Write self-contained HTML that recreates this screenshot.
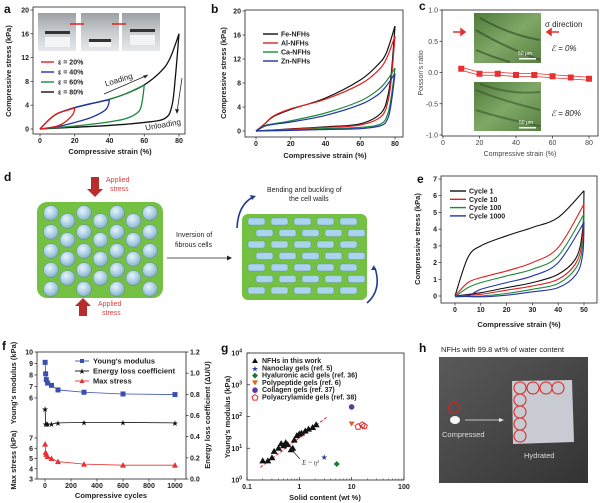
<!DOCTYPE html>
<html><head><meta charset="utf-8"><style>
html,body{margin:0;padding:0;background:#fff;}
svg{display:block;font-family:"Liberation Sans",sans-serif;}
.t{font-size:7px;font-weight:bold;fill:#222;}
.tn{font-size:7px;fill:#444;}
.ttl{font-size:7.5px;font-weight:bold;fill:#222;}
.lab{font-size:12px;font-weight:bold;fill:#111;}
</style></head><body>
<svg id="fig" width="600" height="503" viewBox="0 0 600 503">
<defs>
<linearGradient id="photoGray" x1="0" y1="0" x2="0" y2="1"><stop offset="0" stop-color="#9aa0a4"/><stop offset="0.5" stop-color="#c9cdd0"/><stop offset="1" stop-color="#e6e8ea"/></linearGradient>
<linearGradient id="greenImg" x1="0" y1="0" x2="1" y2="1"><stop offset="0" stop-color="#4f7a3c"/><stop offset="0.5" stop-color="#7fa866"/><stop offset="1" stop-color="#587f44"/></linearGradient>
<radialGradient id="bubble" cx="0.4" cy="0.35" r="0.7"><stop offset="0" stop-color="#e8f4fb"/><stop offset="0.7" stop-color="#9cc6dc"/><stop offset="1" stop-color="#7fa0a0"/></radialGradient>
<linearGradient id="hPhoto" x1="0" y1="0" x2="1" y2="1"><stop offset="0" stop-color="#5a5a5a"/><stop offset="1" stop-color="#333"/></linearGradient>
</defs>
<text class="lab" x="4" y="13">a</text>
<text class="lab" x="211" y="13">b</text>
<text class="lab" x="419" y="10">c</text>
<text class="lab" x="4" y="181">d</text>
<text class="lab" x="417" y="183">e</text>
<text class="lab" x="2" y="350">f</text>
<text class="lab" x="221" y="352">g</text>
<text class="lab" x="419" y="352">h</text>

<g>
<rect x="38" y="13" width="38" height="38" fill="url(#photoGray)"/>
<rect x="81" y="13" width="38" height="38" fill="url(#photoGray)"/>
<rect x="122" y="13" width="38" height="38" fill="url(#photoGray)"/>
<rect x="45" y="31" width="25" height="3" fill="#333"/><rect x="89" y="39" width="22" height="3" fill="#333"/><rect x="130" y="29" width="25" height="3" fill="#333"/>
<rect x="45" y="37" width="25" height="10" fill="#f2f4f5"/><rect x="89" y="42" width="22" height="5" fill="#f2f4f5"/><rect x="130" y="35" width="25" height="10" fill="#f2f4f5"/>
<line x1="70" y1="24" x2="84" y2="24" stroke="#e02020" stroke-width="1.5"/><line x1="112" y1="24" x2="126" y2="24" stroke="#e02020" stroke-width="1.5"/>
</g>
<text x="104" y="82" font-size="8" fill="#222" transform="rotate(-17 120 78)">Loading</text>
<line x1="104" y1="94" x2="148" y2="75" stroke="#222" stroke-width="0.8"/>
<path d="M148,75 l-5,0.5 l2,3z" fill="#222"/>
<text x="145" y="128" font-size="8" fill="#222" transform="rotate(-10 160 125)">Unloading</text>
<line x1="182" y1="78" x2="177" y2="112" stroke="#222" stroke-width="0.8"/>
<path d="M177,114 l-2,-5 l4,0.5z" fill="#222"/>

<g>
<rect x="474" y="13" width="67" height="50" fill="url(#greenImg)"/>
<path d="M476,30 Q500,45 540,60 M480,18 Q510,35 540,40 M476,50 Q495,58 510,62" stroke="#2e4a22" stroke-width="2" fill="none" opacity="0.6"/>
<rect x="519" y="58" width="17" height="1.5" fill="#fff"/><text x="518" y="55" font-size="5" fill="#fff">50 μm</text>
<rect x="474" y="82" width="67" height="49" fill="url(#greenImg)"/>
<path d="M476,90 Q500,100 540,110 M476,110 Q500,118 540,126 M480,84 Q510,95 540,92" stroke="#2e4a22" stroke-width="2" fill="none" opacity="0.5"/>
<rect x="519" y="127" width="17" height="1.5" fill="#fff"/><text x="519" y="124" font-size="5" fill="#fff">50 μm</text>
</g>
<text x="545" y="27" font-size="8" fill="#222">σ direction</text>
<path d="M453,32 h12 M465,32 l-4,-3 v6z" stroke="#e03030" stroke-width="1.5" fill="#e03030"/>
<path d="M559,32 h-12 M547,32 l4,-3 v6z" stroke="#e03030" stroke-width="1.5" fill="#e03030"/>
<text x="551" y="51" font-size="8" fill="#222" font-style="italic">ℰ = 0%</text>
<text x="551" y="116" font-size="8" fill="#222" font-style="italic">ℰ = 80%</text>

<g id="honey">
<rect x="37" y="202" width="126" height="96" rx="10" fill="#74c043"/>
</g>
<path d="M91,177 v12 h-4 l8,8 l8,-8 h-4 v-12z" fill="#b82c2c"/>
<text x="106" y="182" font-size="7" fill="#e04040">Applied</text>
<text x="110" y="191" font-size="7" fill="#e04040">stress</text>
<path d="M79,316 v-10 h-4 l8,-8 l8,8 h-4 v10z" fill="#b82c2c"/>
<text x="98" y="306" font-size="7" fill="#e04040">Applied</text>
<text x="102" y="315" font-size="7" fill="#e04040">stress</text>
<text x="176" y="237" font-size="7" fill="#222">Inversion of</text>
<text x="175" y="247" font-size="7" fill="#222">fibrous cells</text>
<line x1="167" y1="258" x2="228" y2="258" stroke="#222" stroke-width="0.8"/>
<path d="M232,258 l-5,-2.5 v5z" fill="#222"/>
<text x="267" y="192" font-size="7" fill="#222">Bending and buckling of</text>
<text x="289" y="201" font-size="7" fill="#222">the cell walls</text>
<g id="brick">
<rect x="242" y="214" width="125" height="86" rx="6" fill="#74c043"/>
</g>
<path d="M237,228 Q238,205 253,197" stroke="#223d8c" stroke-width="1.6" fill="none"/>
<path d="M256,196 l-6,-1 l2,5z" fill="#223d8c"/>
<path d="M375,268 Q382,290 367,303" stroke="#223d8c" stroke-width="1.6" fill="none"/>
<path d="M374,265 l-3,5 l5,0z" fill="#223d8c"/>

<g>
<rect x="439" y="357" width="149" height="126" fill="url(#hPhoto)"/>
<path d="M512,381 L572,380 L574,442 L513,444z" fill="#c8ccd2"/>
<ellipse cx="455" cy="420" rx="5" ry="4" fill="#f6f6f6"/>
<circle cx="454" cy="408" r="5.5" fill="none" stroke="#e02020" stroke-width="1"/>
<line x1="465" y1="420" x2="500" y2="420" stroke="#eee" stroke-width="0.8"/><path d="M504,420 l-5,-2 v4z" fill="#eee"/>
<g id="hcircles" fill="none" stroke="#e02020" stroke-width="1"></g>
<text x="442" y="437" font-size="7.5" fill="#ddd">Compressed</text>
<text x="524" y="458" font-size="7.5" fill="#ddd">Hydrated</text>
</g>
<text x="441" y="352" font-size="7.5" fill="#222">NFHs with 99.8 wt% of water content</text>

<g id="charts"></g>
</svg>
<script>
var aLoad80X=[0,5,10,20,30,40,50,60,70,75,80];
var aLoad80Y=[0,1.5,2.6,3.6,4.3,5.0,6.0,7.4,9.8,12,16];
var aUn80X=[80,78,76,72,60,40,20,0];
var aUn80Y=[16,9,4,1.8,1.1,0.6,0.3,0];
var aUn60X=[60,59,57,50,40,20,0];
var aUn60Y=[7.4,5,3,1.8,1.2,0.5,0];
var aUn40X=[40,38,30,20,10,0];
var aUn40Y=[4.9,3.3,2,1.1,0.4,0];
var aUn20X=[20,19,15,10,0];
var aUn20Y=[3.5,2.5,1.3,0.5,0];
var aLegend=["ε = 20%","ε = 40%","ε = 60%","ε = 80%"];
var aXTicks=[0,20,40,60,80];
var aYTicks=[0,4,8,12,16,20];
var bNames=["Fe-NFHs","Al-NFHs","Ca-NFHs","Zn-NFHs"];
var bLoadX=[0,5,10,20,40,60,70,75,80];
var bFeLoad=[0,1.2,2.4,3.6,5.5,8.5,11,13,17.5];
var bAlLoad=[0,1.2,2.5,3.7,5.3,7.8,10,12,15.8];
var bCaLoad=[0,0.9,1.2,1.7,3.0,5.0,6.8,8.3,10.5];
var bZnLoad=[0,0.8,1.1,1.5,2.6,4.4,6.0,7.5,9.6];
var bUnX=[80,78,76,72,60,40,20,0];
var bFeUn=[17.5,10,6,3,1.2,0.7,0.35,0];
var bAlUn=[15.8,9,5,2.4,1.0,0.6,0.3,0];
var bCaUn=[10.5,6,3,1.2,0.6,0.4,0.2,0];
var bZnUn=[9.6,5,2.2,0.9,0.4,0.25,0.1,0];
var bXTicks=[0,20,40,60,80];
var bYTicks=[0,4,8,12,16,20];
var cStrain=[10,20,30,40,50,60,70,80];
var cPoisson=[0.06,-0.02,-0.02,-0.04,-0.04,-0.06,-0.08,-0.1];
var cXTicks=[0,20,40,60,80];
var cYTicks=[-1.0,-0.5,0.0,0.5,1.0];
var eNames=["Cycle 1","Cycle 10","Cycle 100","Cycle 1000"];
var eLoadX=[0,5,10,20,30,40,50];
var e1Load=[0,2.3,3.0,3.6,4.1,4.7,6.3];
var e10Load=[0,0.8,1.1,1.5,2.0,2.9,5.5];
var e100Load=[-0.05,0.5,0.8,1.2,1.6,2.4,4.9];
var e1000Load=[0,0,0.4,0.8,1.2,2.0,4.4];
var eUnX=[50,49.5,47,40,30,20,10,0];
var e1Un=[6.3,4,2.3,1.3,0.8,0.5,0.2,0];
var e10Un=[5.5,3.5,2,1,0.6,0.35,0.1,0];
var e100Un=[4.9,3,1.7,0.75,0.4,0.15,0,-0.05];
var e1000Un=[4.4,2.5,1.3,0.5,0.25,0.05,-0.05,0];
var eXTicks=[0,10,20,30,40,50];
var eYTicks=[0,1,2,3,4,5,6,7];
var fCycles=[1,5,10,20,50,100,300,600,1000];
var fYoung=[9.1,8.1,7.6,7.3,7.1,6.7,6.5,6.35,6.3];
var fEnergy=[0.66,0.52,0.52,0.52,0.52,0.53,0.535,0.535,0.53];
var fMax=[6.4,5.6,5.4,5.2,5.0,4.7,4.45,4.35,4.35];
var fXTicks=[0,200,400,600,800,1000];
var fYoungTicks=[6,7,8,9,10];
var fMaxTicks=[3,4,5,6,7];
var fRightTicks=[0.0,0.2,0.4,0.6,0.8,1.0,1.2];
var fLegend=["Young's modulus","Energy loss coefficient","Max stress"];
var gNfhSolid=[0.2,0.25,0.3,0.33,0.4,0.45,0.5,0.55,0.6,0.7,0.75,0.8,0.9,1.0,1.1,1.3,1.5,1.8,2.1];
var gNfhMod=[4,4,5,8,10,14,12,15,13,9,10,18,25,28,30,35,40,45,55];
var gOtherSolid=[3,5.2,10,10,13.3,16,17.5];
var gOtherMod=[5.3,3.2,58,200,48,55,50];
var gOtherType=["star","diamond","tri","circle","pent","pent","pent"];
var gFitSolid=[0.18,3.5];
var gFitMod=[2.5,100];
var gLegend=["NFHs in this work","Nanoclay gels (ref. 5)","Hyaluronic acid gels (ref. 36)","Polypeptide gels (ref. 6)","Collagen gels (ref. 37)","Polyacrylamide gels (ref. 38)"];
var gXTicks=[0.1,1,10,100];
var gYTicks=[0,1,2,3,4];

var NS="http://www.w3.org/2000/svg";
var root=document.getElementById('charts');
function mk(tag,at,par){var e=document.createElementNS(NS,tag);for(var k in at)e.setAttribute(k,at[k]);(par||root).appendChild(e);return e;}
function lin(d0,d1,r0,r1){return function(v){return r0+(v-d0)*(r1-r0)/(d1-d0);};}
function smooth(pts){var d="M"+pts[0][0]+","+pts[0][1];for(var i=0;i<pts.length-1;i++){var p0=pts[i-1]||pts[i],p1=pts[i],p2=pts[i+1],p3=pts[i+2]||p2;var c1x=p1[0]+(p2[0]-p0[0])/6,c1y=p1[1]+(p2[1]-p0[1])/6,c2x=p2[0]-(p3[0]-p1[0])/6,c2y=p2[1]-(p3[1]-p1[1])/6;d+=" C"+c1x+","+c1y+" "+c2x+","+c2y+" "+p2[0]+","+p2[1];}return d;}
function curve(xs,ys,sx,sy,col,w,name){var p=[];for(var i=0;i<xs.length;i++)p.push([sx(xs[i]),sy(ys[i])]);var e=mk('path',{d:smooth(p),fill:'none',stroke:col,'stroke-width':w||1.2});


return e;}
function box(x0,y0,x1,y1,name){var e=mk('rect',{x:x0,y:y0,width:x1-x0,height:y1-y0,fill:'none',stroke:'#222','stroke-width':0.8});

}
function txt(x,y,s,cls,anchor,extra,name){var e=mk('text',{x:x,y:y,'class':cls,'text-anchor':anchor||'start'});for(var k in extra||{})e.setAttribute(k,extra[k]);e.textContent=s;


return e;}
function xTicks(ticks,sx,yb,cls,fmt,name){ticks.forEach(function(t){mk('line',{x1:sx(t),x2:sx(t),y1:yb,y2:yb+2.5,stroke:'#222','stroke-width':0.7});txt(sx(t),yb+9,fmt?fmt(t):String(t),cls,'middle',{},name);});}
function yTicks(ticks,sy,xl,cls,fmt,name,fill,right){ticks.forEach(function(t){mk('line',{x1:xl,x2:right?xl+2.5:xl-2.5,y1:sy(t),y2:sy(t),stroke:'#222','stroke-width':0.7});txt(right?xl+4:xl-4,sy(t)+2.5,fmt?fmt(t):String(t),cls,right?'start':'end',fill?{fill:fill}:{},name);});}
function vtitle(x,y,s,cls,fill,name){txt(x,y,s,cls,'middle',{transform:'rotate(-90 '+x+' '+y+')',fill:fill||'#222'},name);}

(function(){var sx=lin(0,80,40,179),sy=lin(0,20,129,10);
box(33,7,185,134,'panel-a-axes');
xTicks(aXTicks,sx,134,'t',null,'a-x-tick');yTicks(aYTicks,sy,33,'t',null,'a-y-tick');
txt(110,154,'Compressive strain (%)','ttl','middle',{},'a-x-axis-title');vtitle(11,71,'Compressive stress (kPa)','ttl',null,'a-y-axis-title');
var cols=['#e02020','#2233aa','#1a8a3a','#111'];
var ends=[20,40,60,80];var uns=[[aUn20X,aUn20Y],[aUn40X,aUn40Y],[aUn60X,aUn60Y],[aUn80X,aUn80Y]];
for(var k=3;k>=0;k--){var lx=[],ly=[];for(var i=0;i<aLoad80X.length;i++){if(aLoad80X[i]<ends[k]){lx.push(aLoad80X[i]);ly.push(aLoad80Y[i]);}}lx.push(uns[k][0][0]);ly.push(uns[k][1][0]);
curve(lx,ly,sx,sy,cols[k],1.3,'a-loading-'+ends[k]);curve(uns[k][0],uns[k][1],sx,sy,cols[k],1.3,'a-unloading-'+ends[k]);}
aLegend.forEach(function(s,i){var y=62+i*10;mk('line',{x1:41,x2:54,y1:y,y2:y,stroke:cols[i],'stroke-width':1.4});txt(58,y+2.5,s,'t','start',{},'a-legend-entry');});
})();
(function(){var sx=lin(0,80,256,395),sy=lin(0,20,131,11);
box(245,10,403,137,'panel-b-axes');
xTicks(bXTicks,sx,137,'t',null,'b-x-tick');yTicks(bYTicks,sy,245,'t',null,'b-y-tick');
txt(325,158,'Compressive strain (%)','ttl','middle',{},'b-x-axis-title');vtitle(226,73,'Compressive stress (kPa)','ttl',null,'b-y-axis-title');
var cols=['#111','#e02020','#1a8a3a','#2233aa'];var L=[bFeLoad,bAlLoad,bCaLoad,bZnLoad],U=[bFeUn,bAlUn,bCaUn,bZnUn];
for(var k=0;k<4;k++){curve(bLoadX,L[k],sx,sy,cols[k],1.2,'b-loading-'+bNames[k]);curve(bUnX,U[k],sx,sy,cols[k],1.2,'b-unloading-'+bNames[k]);}
bNames.forEach(function(s,i){var y=34+i*9;mk('line',{x1:263,x2:278,y1:y,y2:y,stroke:cols[i],'stroke-width':1.4});txt(281,y+2.5,s,'t','start',{},'b-legend-entry');});
})();
(function(){var sx=lin(0,80,443,589),sy=lin(-1,1,135,10);
box(442,10,598,136,'panel-c-axes');
xTicks(cXTicks,sx,136,'tn',null,'c-x-tick');yTicks(cYTicks,sy,442,'tn',function(v){return v.toFixed(1);},'c-y-tick');
txt(520,156,'Compressive strain (%)','tn','middle',{},'c-x-axis-title');vtitle(423,73,"Poisson's ratio",'tn',null,'c-y-axis-title');
[-1.5,1.5].forEach(function(o){var p=cStrain.map(function(s,i){return sx(s)+','+(sy(cPoisson[i])+o);});var e=mk('polyline',{points:p.join(' '),fill:'none',stroke:'#e83030','stroke-width':0.8});

});
cStrain.forEach(function(s,i){var e=mk('rect',{x:sx(s)-3,y:sy(cPoisson[i])-3,width:6,height:6,fill:'#e83030'});

});
})();
(function(){var sx=lin(0,50,455,584),sy=lin(0,7,296,179);
box(441,176,597,303,'panel-e-axes');
xTicks(eXTicks,sx,303,'t',null,'e-x-tick');yTicks(eYTicks,sy,441,'t',null,'e-y-tick');
txt(519,327,'Compressive strain (%)','ttl','middle',{},'e-x-axis-title');vtitle(420,239,'Compressive stress (kPa)','ttl',null,'e-y-axis-title');
var cols=['#111','#e02020','#1a8a3a','#2233aa'];var L=[e1Load,e10Load,e100Load,e1000Load],U=[e1Un,e10Un,e100Un,e1000Un];
for(var k=0;k<4;k++){curve(eLoadX,L[k],sx,sy,cols[k],1.1,'e-loading-'+eNames[k]);curve(eUnX,U[k],sx,sy,cols[k],1.1,'e-unloading-'+eNames[k]);}
eNames.forEach(function(s,i){var y=191+i*8.3;mk('line',{x1:450,x2:466,y1:y,y2:y,stroke:cols[i],'stroke-width':1.4});txt(469,y+2.5,s,'t','start',{},'e-legend-entry');});
})();
(function(){var sx=lin(0,1000,45,175),syY=lin(6,10,398,352),syM=lin(3,7,479,438),syE=lin(0,1.2,479,352);
box(37,352,186,479,'panel-f-axes');
xTicks(fXTicks,sx,479,'t',null,'f-x-tick');
yTicks(fYoungTicks,syY,37,'t',null,'f-young-tick','#2a3f9a');yTicks(fMaxTicks,syM,37,'t',null,'f-max-tick','#e02020');
yTicks(fRightTicks,syE,186,'t',function(v){return v.toFixed(1);},'f-energy-tick',null,true);
txt(111,498,'Compressive cycles','ttl','middle',{},'f-x-axis-title');
vtitle(16,383,"Young's modulus (kPa)",'ttl','#2a3f9a','f-young-axis-title');vtitle(16,460,'Max stress (kPa)','ttl','#e02020','f-max-axis-title');
vtitle(210,415,'Energy loss coefficient (ΔU/U)','ttl',null,'f-energy-axis-title');
function series(ys,sy,col,shape,name){var p=fCycles.map(function(c,i){return sx(c)+','+sy(ys[i]);});var e=mk('polyline',{points:p.join(' '),fill:'none',stroke:col,'stroke-width':0.8});


fCycles.forEach(function(c,i){var x=sx(c),y=sy(ys[i]),m;
if(shape=='sq')m=mk('rect',{x:x-2.5,y:y-2.5,width:5,height:5,fill:col});
else if(shape=='tri')m=mk('path',{d:'M'+x+','+(y-3)+' l3,5.5 h-6z',fill:col});
else m=mk('text',{x:x,y:y+3,'text-anchor':'middle','font-size':8,fill:col});
if(shape=='star')m.textContent='★';

});}
series(fYoung,syY,'#3a4fb0','sq','f-young');series(fEnergy,syE,'#111','star','f-energy');series(fMax,syM,'#e83030','tri','f-max');
var cols=['#3a4fb0','#111','#e83030'];
fLegend.forEach(function(s,i){var y=361+i*10;mk('line',{x1:75,x2:89,y1:y,y2:y,stroke:cols[i],'stroke-width':0.9});
if(i==0)mk('rect',{x:80,y:y-2,width:4,height:4,fill:cols[i]});else if(i==1){var st=mk('text',{x:82,y:y+3,'text-anchor':'middle','font-size':8,fill:'#111'});st.textContent='★';}else mk('path',{d:'M82,'+(y-2.5)+' l2.5,4.5 h-5z',fill:cols[i]});
txt(93,y+2.5,s,'ttl','start',{},'f-legend-entry');});
})();
(function(){var sx=function(v){return 247+Math.log10(v/0.1)*52.3;},sy=function(v){return 480-Math.log10(v)*31.75;};
box(247,353,404,480,'panel-g-axes');
gXTicks.forEach(function(t){mk('line',{x1:sx(t),x2:sx(t),y1:480,y2:477,stroke:'#222','stroke-width':0.7});txt(sx(t),489,String(t),'t','middle',{},'g-x-tick');});
for(var d=0.1;d<100;d*=10){for(var m=2;m<10;m++){mk('line',{x1:sx(d*m),x2:sx(d*m),y1:480,y2:478.5,stroke:'#222','stroke-width':0.5});}}
gYTicks.forEach(function(t){var y=480-t*31.75;mk('line',{x1:247,x2:250,y1:y,y2:y,stroke:'#222','stroke-width':0.7});var e=txt(242,y+2.5,'10','t','end',{},'g-y-tick');var s=mk('tspan',{dy:-3,'font-size':5});s.textContent=String(t);e.appendChild(s);});
txt(325,500,'Solid content (wt %)','ttl','middle',{},'g-x-axis-title');vtitle(230,417,"Young's modulus (kPa)",'ttl',null,'g-y-axis-title');
var f=mk('line',{x1:sx(gFitSolid[0]),y1:sy(gFitMod[0]),x2:sx(gFitSolid[1]),y2:sy(gFitMod[1]),stroke:'#e02020','stroke-width':1,'stroke-dasharray':'3,2'});


gNfhSolid.forEach(function(s,i){var x=sx(s),y=sy(gNfhMod[i]);var m=mk('path',{d:'M'+x+','+(y-3.5)+' l3.5,6 h-7z',fill:'#111'});

});
var oc={star:'#2a3f9a',diamond:'#1a7a3a',tri:'#e06020',circle:'#5a3a9a',pent:'#e03030'};
function marker(type,x,y){var m;if(type=='star'){m=mk('text',{x:x,y:y+3,'text-anchor':'middle','font-size':8,fill:oc.star});m.textContent='★';}
else if(type=='diamond')m=mk('path',{d:'M'+x+','+(y-3)+' l3,3 l-3,3 l-3,-3z',fill:oc.diamond});
else if(type=='tri')m=mk('path',{d:'M'+(x-3)+','+(y-2.5)+' h6 l-3,5z',fill:oc.tri});
else if(type=='circle')m=mk('circle',{cx:x,cy:y,r:2.8,fill:oc.circle});
else m=mk('path',{d:'M'+x+','+(y-3)+' l3,2.2 l-1.2,3.4 h-3.6 l-1.2,-3.4z',fill:'none',stroke:oc.pent,'stroke-width':1});return m;}
gOtherSolid.forEach(function(s,i){var m=marker(gOtherType[i],sx(s),sy(gOtherMod[i]));

});
var lt=['nfh','star','diamond','tri','circle','pent'];
gLegend.forEach(function(s,i){var y=361+i*7.3;if(i==0)mk('path',{d:'M255,'+(y-3)+' l3,5 h-6z',fill:'#111'});else marker(lt[i],255,y);
txt(262,y+2,s,'t','start',{'font-size':'5.5px'},'g-legend-entry');});
mk('line',{x1:290,y1:448,x2:300,y2:459,stroke:'#222','stroke-width':0.7});
txt(302,465,'E ~ η²','tn','start',{'font-style':'italic','font-family':'Liberation Serif'},'g-scaling-annotation');
})();
(function(){var h=document.getElementById('honey');
for(var c=0;c<7;c++){for(var r=0;r<5;r++){var x=51+c*16.5,y=213+r*19+(c%2?8:0);if(y>292)continue;var e=mk('circle',{cx:x,cy:y,r:7.5,fill:'url(#bubble)',stroke:'#5f8aa0','stroke-width':0.5},h);

}}
var b=document.getElementById('brick');
for(var r=0;r<7;r++){for(var c=0;c<5;c++){var x=248+c*23+(r%2?8:0),y=218+r*11.5;if(x>352)continue;var e=mk('rect',{x:x,y:y,width:17,height:7,rx:2.5,fill:'#aad4ee',stroke:'#5f8aa0','stroke-width':0.4},b);

}}
var hc=document.getElementById('hcircles');
[[520,388],[533,388],[546,388],[558,388],[520,400],[520,412],[520,424],[520,436]].forEach(function(p){var e=mk('circle',{cx:p[0],cy:p[1],r:6},hc);

});
})();
</script>
</body></html>
